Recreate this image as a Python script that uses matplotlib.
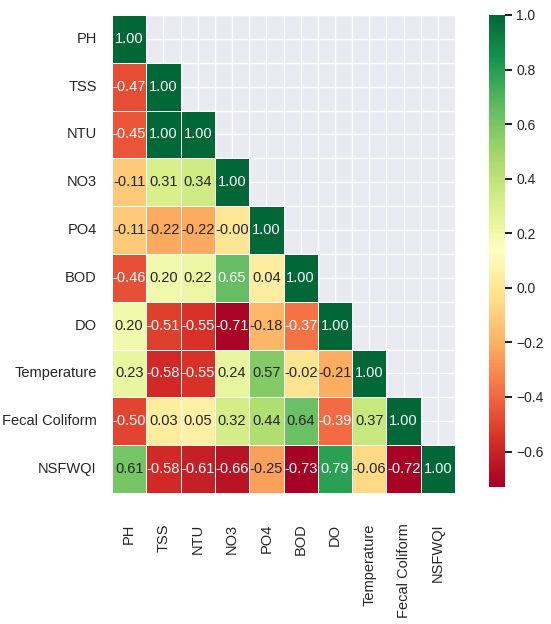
import numpy as np
import pandas as pd
import matplotlib
matplotlib.use("Agg")
import matplotlib.pyplot as plt
import seaborn as sns

labels = ["PH", "TSS", "NTU", "NO3", "PO4", "BOD", "DO", "Temperature",
          "Fecal Coliform", "NSFWQI"]

row_PH = [1.00]
row_TSS = [-0.47, 1.00]
row_NTU = [-0.45, 1.00, 1.00]
row_NO3 = [-0.11, 0.31, 0.34, 1.00]
row_PO4 = [-0.11, -0.22, -0.22, -0.001, 1.00]
row_BOD = [-0.46, 0.20, 0.22, 0.65, 0.04, 1.00]
row_DO = [0.20, -0.51, -0.55, -0.71, -0.18, -0.37, 1.00]
row_Temp = [0.23, -0.58, -0.55, 0.24, 0.57, -0.02, -0.21, 1.00]
row_Fecal = [-0.50, 0.03, 0.05, 0.32, 0.44, 0.64, -0.39, 0.37, 1.00]
row_NSF = [0.61, -0.58, -0.61, -0.66, -0.25, -0.73, 0.79, -0.06, -0.72, 1.00]

rows = [row_PH, row_TSS, row_NTU, row_NO3, row_PO4, row_BOD, row_DO,
        row_Temp, row_Fecal, row_NSF]
n = len(labels)
mat = np.full((n, n), np.nan)
for i, r in enumerate(rows):
    for j, v in enumerate(r):
        mat[i, j] = v
        mat[j, i] = v
corr = pd.DataFrame(mat, index=labels, columns=labels)
mask = np.triu(np.ones((n, n), dtype=bool), k=1)

sns.set_theme(style="darkgrid")
plt.rcParams["font.family"] = ["Liberation Sans", "DejaVu Sans"]

fig = plt.figure(figsize=(5.51, 6.24), dpi=100)
ax = fig.add_axes([0.2033, 0.21, 0.6225, 0.766])
cax = fig.add_axes([0.8875, 0.2196, 0.029, 0.7564])

sns.heatmap(corr, mask=mask, annot=True, fmt=".2f", cmap="RdYlGn",
            linewidths=0.5, linecolor="white", ax=ax, cbar_ax=cax,
            annot_kws={"fontsize": 10.5})

ax.set_facecolor("#EAEAF2")
ax.set_xticks(np.arange(0, n + 1), minor=True)
ax.set_yticks(np.arange(0, n + 1), minor=True)
ax.tick_params(which="minor", length=0)
ax.tick_params(which="major", length=0, labelsize=10.5)
ax.tick_params(axis="x", which="major", pad=22)
ax.tick_params(axis="y", which="major", pad=11)
ax.grid(True, which="both", color="white", linewidth=1)
ax.set_axisbelow(True)
for t in ax.get_xticklabels():
    t.set_rotation(90)
for t in ax.get_yticklabels():
    t.set_rotation(0)

cax.tick_params(labelsize=10, length=5, width=1.5, color="#222222", pad=3)
cax.yaxis.set_ticks([-0.6, -0.4, -0.2, 0.0, 0.2, 0.4, 0.6, 0.8, 1.0])
for s in cax.spines.values():
    s.set_visible(False)

fig.savefig("out.png", dpi=100)
